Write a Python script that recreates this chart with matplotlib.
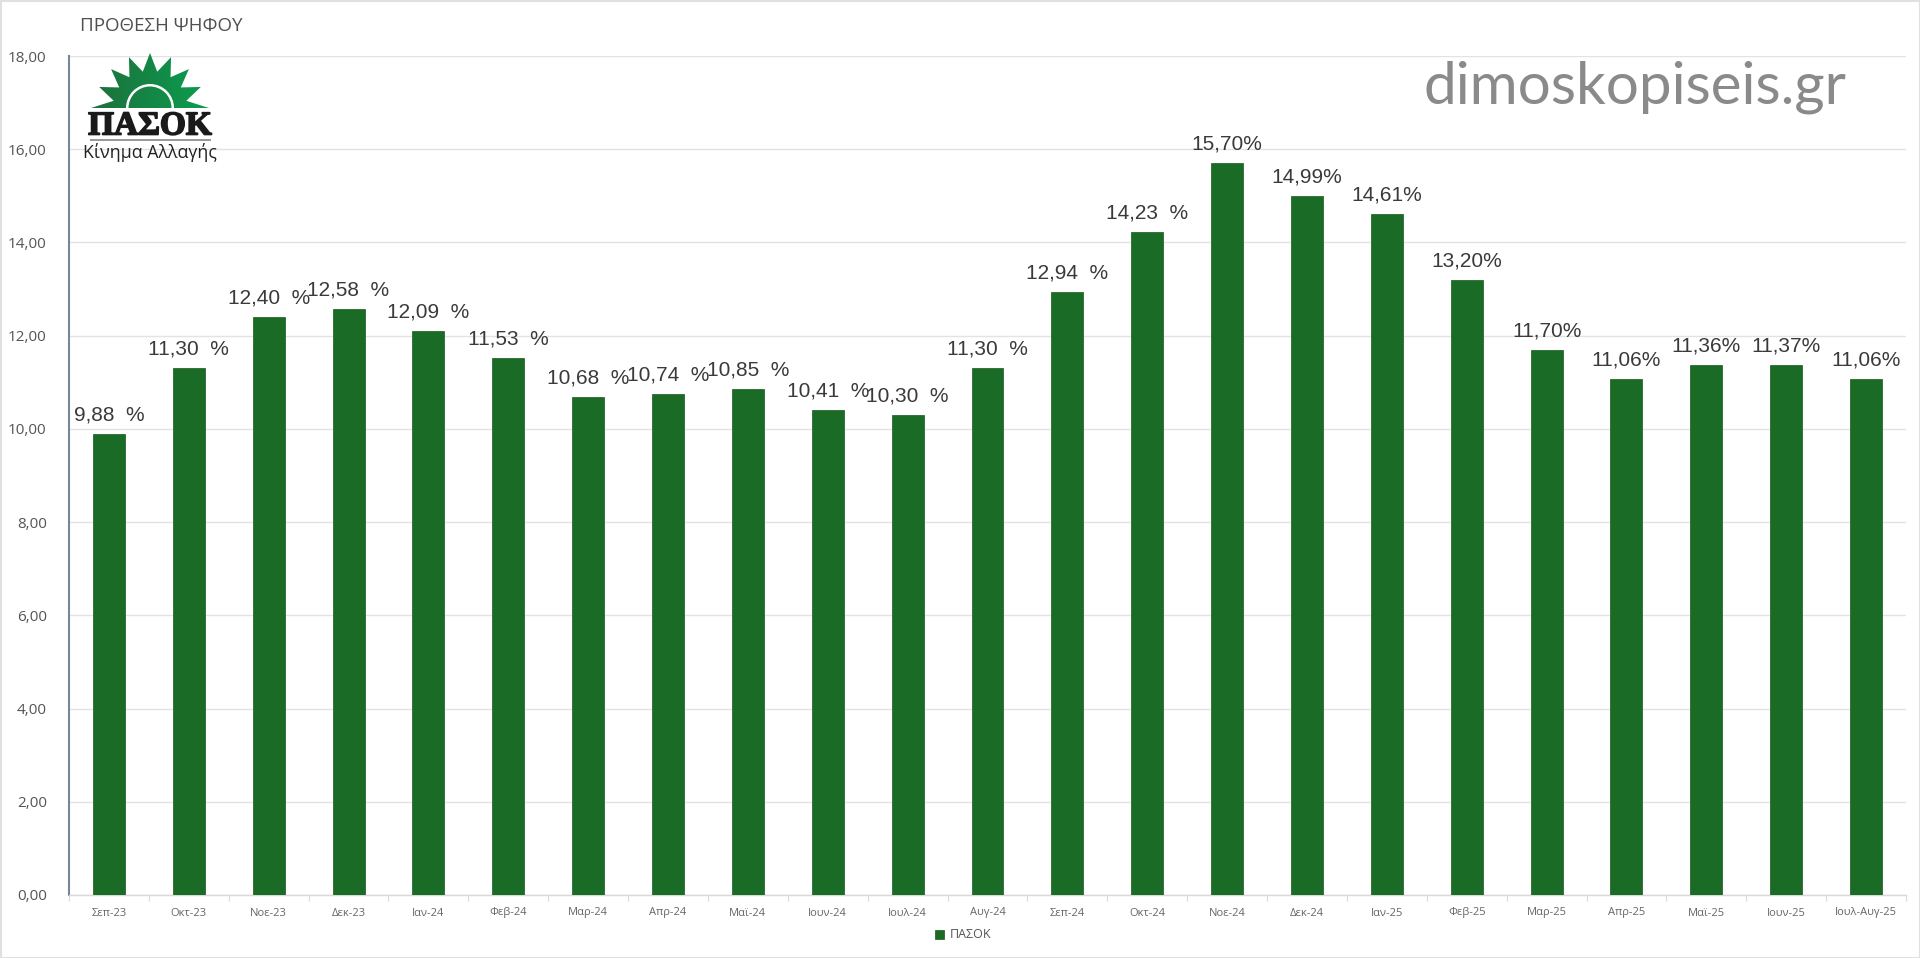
import numpy as np
import matplotlib
matplotlib.use("Agg")
import matplotlib.pyplot as plt
import matplotlib.patheffects as pe
from matplotlib.patches import Polygon, Rectangle, Wedge

months = ["Σεπ-23","Οκτ-23","Νοε-23","Δεκ-23","Ιαν-24","Φεβ-24","Μαρ-24","Απρ-24","Μαϊ-24","Ιουν-24","Ιουλ-24","Αυγ-24",
          "Σεπ-24","Οκτ-24","Νοε-24","Δεκ-24","Ιαν-25","Φεβ-25","Μαρ-25","Απρ-25","Μαϊ-25","Ιουν-25","Ιουλ-Αυγ-25"]
pasok = [9.88,11.30,12.40,12.58,12.09,11.53,10.68,10.74,10.85,10.41,10.30,11.30,
         12.94,14.23,15.70,14.99,14.61,13.20,11.70,11.06,11.36,11.37,11.06]
value_labels = ["9,88  %","11,30  %","12,40  %","12,58  %","12,09  %","11,53  %","10,68  %","10,74  %","10,85  %","10,41  %","10,30  %","11,30  %",
                "12,94  %","14,23  %","15,70%","14,99%","14,61%","13,20%","11,70%","11,06%","11,36%","11,37%","11,06%"]
y_ticks = [0,2,4,6,8,10,12,14,16,18]
series_name = "ΠΑΣΟΚ"
chart_title = "ΠΡΟΘΕΣΗ ΨΗΦΟΥ"
watermark = "dimoskopiseis.gr"

W, H = 1920, 958
plt.rcParams["font.family"] = ["Open Sans", "DejaVu Sans"]
fig = plt.figure(figsize=(W/100, H/100), dpi=100, facecolor="white")
ax = fig.add_axes([69/W, 1-895/H, (1906-69)/W, (895-56)/H])

x = np.arange(len(months))
ax.bar(x, pasok, width=0.4, color="#1a6b25", edgecolor="#14591d", linewidth=0.5, label=series_name, zorder=3)
for xi, v, lab in zip(x, pasok, value_labels):
    ax.annotate(lab, (xi, v), xytext=(0, 19), textcoords="offset pixels", ha="center", va="center",
                fontsize=15, color="#3a3a3a", family="Liberation Sans", zorder=5)

ax.set_xlim(-0.5, len(months)-0.5)
ax.set_ylim(0, 18)
ax.set_yticks(y_ticks)
ax.set_yticklabels([f"{v:.2f}".replace(".", ",") for v in y_ticks], fontsize=11, color="#555555")
ax.tick_params(axis="y", length=0, pad=16)
ax.set_xticks(x)
ax.set_xticklabels(months, fontsize=8, color="#666666")
ax.set_xticks(np.arange(-0.5, len(months)), minor=True)
ax.tick_params(axis="x", which="major", length=0, pad=9)
ax.tick_params(axis="x", which="minor", length=4, width=0.8, color="#d9d9d9")
ax.grid(axis="y", color="#e3e3e3", linewidth=1, zorder=0)
ax.set_axisbelow(True)
for s in ["top", "right"]:
    ax.spines[s].set_visible(False)
ax.spines["bottom"].set_color("#d9d9d9")
ax.spines["bottom"].set_linewidth(1)
ax.spines["left"].set_color("#76879c")
ax.spines["left"].set_linewidth(1.5)

leg = ax.legend(loc="center", bbox_to_anchor=(963/W, 1-935/H), bbox_transform=fig.transFigure, frameon=False,
                fontsize=9, handlelength=0.75, handleheight=0.75, handletextpad=0.4, labelcolor="#555555")

fig.text(80/W, 1-26/H, chart_title, fontsize=13.5, color="#505050", va="center", ha="left")
fig.text(1423/W, 1-87/H, watermark, fontsize=42, color="#8a8a8a", va="center", ha="left", family="Lato")

# page border
fig.add_artist(Rectangle((0.5/W, 0.5/H), (W-1)/W, (H-1)/H, transform=fig.transFigure, fill=False, edgecolor="#e0e0e0", linewidth=1.5))

# logo
lax = fig.add_axes([85/W, 1-175/H, 140/W, 125/H], facecolor="none")
lax.set_xlim(85, 225); lax.set_ylim(175, 50); lax.axis("off")
cx, cy = 150, 108
n = 9
angles = np.linspace(180, 0, n)
outer = []
for i, a in enumerate(angles):
    r = 55 if i not in (0, n-1) else 59
    outer.append((cx + r*np.cos(np.radians(a)), cy - r*np.sin(np.radians(a))))
    if i < n-1:
        am = (a + angles[i+1]) / 2
        outer.append((cx + 37*np.cos(np.radians(am)), cy - 37*np.sin(np.radians(am))))
star = Polygon(outer, closed=True, facecolor="none", edgecolor="none")
lax.add_patch(star)
grad = np.linspace(0, 1, 128).reshape(1, -1)
cmap = matplotlib.colors.LinearSegmentedColormap.from_list("g", ["#1d6f3a", "#0b9e50"])
im = lax.imshow(grad, extent=(90, 210, 108, 50), cmap=cmap, aspect="auto", zorder=2)
im.set_clip_path(star)
lax.set_xlim(85, 225); lax.set_ylim(175, 50)
lax.add_patch(Wedge((cx, 108), 24, 180, 360, width=2.5, facecolor="white", zorder=3))
lax.text(150, 126, series_name, family="Liberation Serif", fontweight="bold", fontsize=24, color="#1a1a1a", ha="center", va="center", zorder=4,
         path_effects=[pe.withStroke(linewidth=1.2, foreground="#1a1a1a")])
lax.add_patch(Rectangle((90, 139), 121, 1.5, facecolor="#9a9a9a", zorder=4))
lax.text(150, 153, "Κίνημα Αλλαγής", fontsize=12.8, color="#222222", ha="center", va="center", zorder=4)

fig.savefig("out.png", dpi=100, facecolor="white")
